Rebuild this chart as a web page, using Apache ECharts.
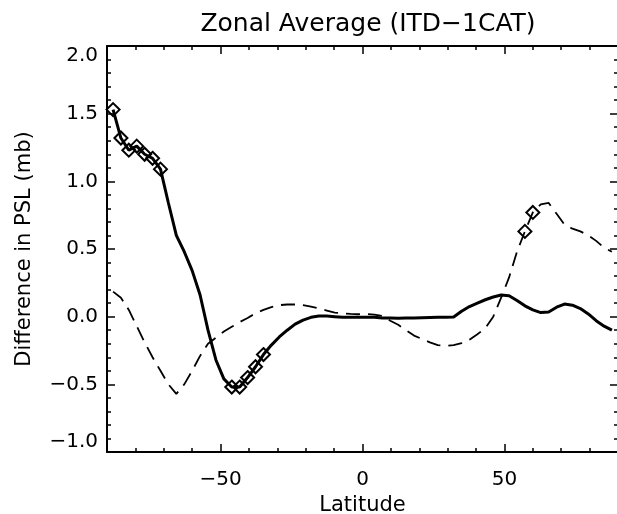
<!DOCTYPE html>
<html>
<head>
<meta charset="utf-8">
<script src="https://cdn.jsdelivr.net/npm/echarts@6/dist/echarts.min.js"></script>
<style>
html,body{margin:0;padding:0;background:#fff;}
#chart{width:617px;height:514px;}
</style>
</head>
<body>
<div id="chart"></div>
<script>
// Gaussian latitudes (T42 grid)
const latitudes = [
  -87.86, -85.10, -82.31, -79.53, -76.74, -73.95, -71.16, -68.37,
  -65.58, -62.79, -60.00, -57.21, -54.42, -51.63, -48.84, -46.05,
  -43.26, -40.47, -37.68, -34.89, -32.10, -29.31, -26.52, -23.73,
  -20.94, -18.15, -15.36, -12.57, -9.78, -6.99, -4.20, -1.40,
  1.40, 4.20, 6.99, 9.78, 12.57, 15.36, 18.15, 20.94,
  23.73, 26.52, 29.31, 32.10, 34.89, 37.68, 40.47, 43.26,
  46.05, 48.84, 51.63, 54.42, 57.21, 60.00, 62.79, 65.58,
  68.37, 71.16, 73.95, 76.74, 79.53, 82.31, 85.10, 87.86
];
// Solid line (thick)
const solidValues = [
  1.53, 1.32, 1.23, 1.26, 1.20, 1.17, 1.09, 0.84,
  0.60, 0.48, 0.34, 0.16, -0.10, -0.32, -0.46, -0.52,
  -0.52, -0.45, -0.37, -0.28, -0.21, -0.15, -0.10, -0.055,
  -0.025, -0.005, 0.005, 0.005, 0.0, -0.005, -0.005, -0.005,
  -0.005, -0.005, -0.01, -0.01, -0.012, -0.01, -0.01, -0.008,
  -0.006, -0.005, -0.005, -0.003, 0.04, 0.075, 0.10, 0.125,
  0.145, 0.16, 0.155, 0.12, 0.08, 0.05, 0.03, 0.035,
  0.07, 0.093, 0.085, 0.06, 0.02, -0.03, -0.07, -0.10
];
// Dashed line
const dashedValues = [
  0.185, 0.14, 0.05, -0.07, -0.19, -0.30, -0.40, -0.50,
  -0.57, -0.50, -0.40, -0.29, -0.20, -0.155, -0.11, -0.075,
  -0.04, -0.01, 0.025, 0.05, 0.07, 0.085, 0.09, 0.09,
  0.085, 0.075, 0.06, 0.045, 0.03, 0.025, 0.02, 0.018,
  0.02, 0.015, 0.005, -0.03, -0.06, -0.10, -0.14, -0.165,
  -0.19, -0.21, -0.215, -0.21, -0.195, -0.17, -0.13, -0.085,
  0.0, 0.14, 0.29, 0.48, 0.63, 0.77, 0.83, 0.84,
  0.76, 0.68, 0.65, 0.63, 0.60, 0.56, 0.51, 0.48
];
// Latitudes marked with diamonds
const solidMarked = [-87.86, -85.10, -82.31, -79.53, -76.74, -73.95, -71.16,
                     -46.05, -43.26, -40.47, -37.68, -34.89];
const dashedMarked = [57.21, 60.00];

const xTickLabels = [-50, 0, 50];
const xMinorTicks = [-90,-80,-70,-60,-50,-40,-30,-20,-10,0,10,20,30,40,50,60,70,80,90];

const FONT = 'DejaVu Sans';
const minus = v => String(v).replace('-', '\u2212');

function build(vals, marked) {
  return latitudes.map((lat, i) => ({
    value: [lat, vals[i]],
    symbol: marked.indexOf(lat) >= 0 ? 'diamond' : 'none'
  }));
}

const chart = echarts.init(document.getElementById('chart'), null, {renderer: 'canvas'});

const TICK = {color: '#000', width: 1.5};

function xAx(pos, major, withLabel) {
  const a = {
    type: 'value', min: -90, max: 90, gridIndex: 0, position: pos, interval: 10,
    splitLine: {show: false},
    axisLine: {show: !major, onZero: false, lineStyle: {color: '#000', width: 2}},
    axisTick: {show: true, inside: true, length: major ? 8 : 4,
               customValues: major ? xTickLabels : xMinorTicks, lineStyle: TICK},
    axisLabel: {show: false}
  };
  if (withLabel) {
    a.name = 'Latitude';
    a.nameLocation = 'middle';
    a.nameGap = 38;
    a.nameTextStyle = {fontFamily: FONT, fontSize: 21, color: '#000'};
    a.axisLabel = {show: true, customValues: xTickLabels, margin: 18,
                   fontFamily: FONT, fontSize: 20, color: '#000', formatter: minus};
  }
  return a;
}

function yAx(pos, withLabel) {
  const a = {
    type: 'value', min: -1, max: 2, interval: 0.5, position: pos,
    splitLine: {show: false},
    axisLine: {show: true, onZero: false, lineStyle: {color: '#000', width: 2}},
    axisTick: {show: true, inside: true, length: 8, lineStyle: TICK},
    minorTick: {show: true, splitNumber: 5, length: 4, lineStyle: TICK},
    axisLabel: {show: false}
  };
  if (withLabel) {
    a.name = 'Difference in PSL (mb)';
    a.nameLocation = 'middle';
    a.nameGap = 72;
    a.nameTextStyle = {fontFamily: FONT, fontSize: 21, color: '#000'};
    a.axisLabel = {
      show: true, margin: 9, fontFamily: FONT, fontSize: 20, color: '#000',
      formatter: v => minus(v.toFixed(1)),
      verticalAlignMinLabel: 'bottom', verticalAlignMaxLabel: 'top'
    };
  }
  return a;
}

const option = {
  backgroundColor: '#fff',
  animation: false,
  title: {
    text: 'Zonal Average (ITD\u22121CAT)',
    left: 363, top: 7, textAlign: 'center',
    textStyle: {fontFamily: FONT, fontSize: 25, fontWeight: 'normal', color: '#000'}
  },
  grid: {left: 107, top: 46, width: 511, height: 406, outerBoundsMode: 'none', containLabel: false},
  xAxis: [
    xAx('bottom', false, true),
    xAx('bottom', true, false),
    xAx('top', false, false),
    xAx('top', true, false)
  ],
  yAxis: [yAx('left', true), yAx('right', false)],
  series: [
    {
      type: 'line', xAxisIndex: 0, yAxisIndex: 0,
      data: build(dashedValues, dashedMarked),
      symbol: 'none', symbolSize: 13, showSymbol: true, showAllSymbol: true,
      lineStyle: {color: '#000', width: 1.8, type: [14, 8]},
      itemStyle: {color: 'rgba(255,255,255,0)', borderColor: '#000', borderWidth: 2},
      z: 2
    },
    {
      type: 'line', xAxisIndex: 0, yAxisIndex: 0,
      data: build(solidValues, solidMarked),
      symbol: 'none', symbolSize: 13, showSymbol: true, showAllSymbol: true,
      lineStyle: {color: '#000', width: 3},
      itemStyle: {color: 'rgba(255,255,255,0)', borderColor: '#000', borderWidth: 2},
      z: 3
    }
  ]
};
chart.setOption(option);
</script>
</body>
</html>
